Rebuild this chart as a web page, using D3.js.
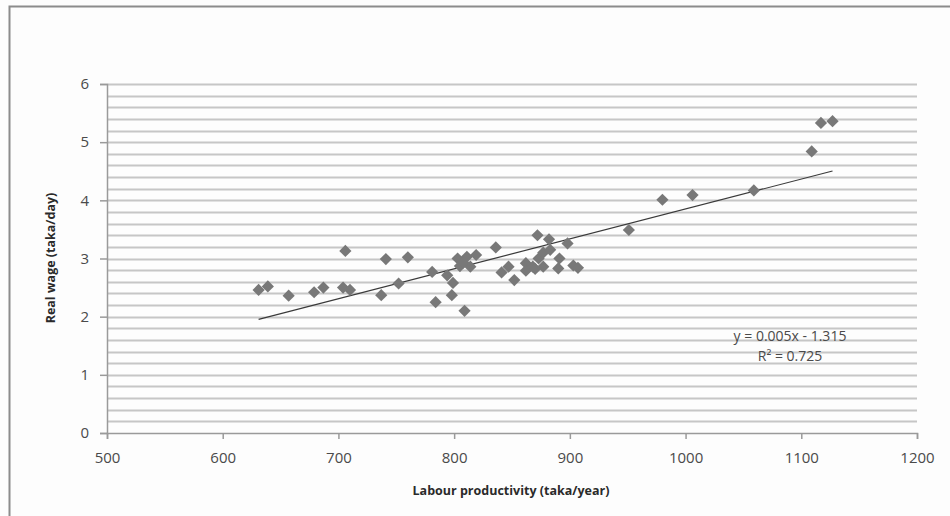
<!DOCTYPE html>
<html><head><meta charset="utf-8">
<script src="https://cdn.jsdelivr.net/npm/d3@7"></script>
<style>
html,body{margin:0;padding:0;background:#fff;}
svg{display:block;}
</style></head>
<body>
<script>
const productivity = [631,639,657,679,687,704,710,706,737,741,752,760,781,784,794,799,798,809,803,811,819,805,814,808,836,841,847,852,872,882,898,862,862,868,873,877,883,877,870,891,890,903,907,951,980,1006,1059,1109,1117,1127];
const realWage = [2.46,2.52,2.36,2.42,2.50,2.50,2.46,3.13,2.37,2.99,2.57,3.02,2.77,2.25,2.71,2.58,2.37,2.10,3.00,3.03,3.06,2.87,2.86,2.93,3.19,2.76,2.86,2.63,3.40,3.33,3.26,2.92,2.79,2.86,3.00,3.10,3.15,2.86,2.82,3.00,2.83,2.88,2.84,3.49,4.01,4.09,4.17,4.84,5.33,5.36];
const xTicks = [500,600,700,800,900,1000,1100,1200];
const yTicks = [0,1,2,3,4,5,6];
const trendCoef = [0.00514, -1.289]; // slope, intercept as drawn
const equationLines = ["y = 0.005x - 1.315", "R\u00B2 = 0.725"];
const xTitle = "Labour productivity (taka/year)";
const yTitle = "Real wage (taka/day)";

const W = 950, H = 516;
const svg = d3.select("body").append("svg").attr("width", W).attr("height", H);
svg.append("rect").attr("width", W).attr("height", H).attr("fill", "#fdfdfd");
// outer frame
svg.append("rect").attr("x", 9.5).attr("y", 6.5).attr("width", 960).attr("height", 530)
  .attr("fill", "none").attr("stroke", "#8c8c8c").attr("stroke-width", 2);

const x = d3.scaleLinear().domain([500, 1200]).range([107, 917]);
const y = d3.scaleLinear().domain([0, 6]).range([433, 84]);

// gridlines every 0.2
const grid = d3.range(1, 31).map(i => i * 0.2);
svg.append("g").selectAll("line").data(grid).join("line")
  .attr("x1", x(500)).attr("x2", x(1200))
  .attr("y1", d => Math.round(y(d)) + 0.5).attr("y2", d => Math.round(y(d)) + 0.5)
  .attr("stroke", "#c6c6c6").attr("stroke-width", 1.8);

// axes
const fontFam = "'Open Sans', 'Liberation Sans', sans-serif";
const yAxis = svg.append("g").attr("transform", `translate(${x(500)},0)`)
  .call(d3.axisLeft(y).tickValues(yTicks).tickSize(7).tickPadding(11).tickFormat(d3.format("d")));
const xAxis = svg.append("g").attr("transform", `translate(0,${y(0)})`)
  .call(d3.axisBottom(x).tickValues(xTicks).tickSize(6).tickPadding(13).tickFormat(d3.format("d")));
[yAxis, xAxis].forEach(a => {
  a.select(".domain").attr("stroke", "#9a9a9a").attr("stroke-width", 1.5);
  a.selectAll(".tick line").attr("stroke", "#9a9a9a").attr("stroke-width", 1.5);
  a.selectAll(".tick text").attr("fill", "#4a4a4a").attr("font-size", 15).attr("font-family", fontFam);
});
xAxis.selectAll(".tick text").attr("dy", "0.71em");

// trend line
const xs = d3.extent(productivity);
const tline = xs.map(v => [v, trendCoef[0] * v + trendCoef[1]]);
svg.append("path").datum(tline)
  .attr("d", d3.line().x(d => x(d[0])).y(d => y(d[1])))
  .attr("stroke", "#3a3a3a").attr("stroke-width", 1.2).attr("fill", "none");

// points
const pts = productivity.map((v, i) => [v, realWage[i]]);
const dsym = d3.symbol().type(d3.symbolDiamond2).size(95);
svg.append("g").selectAll("path").data(pts).join("path")
  .attr("transform", d => `translate(${x(d[0])},${y(d[1])})`)
  .attr("d", dsym).attr("fill", "#787878");

// equation
svg.append("g").selectAll("text").data(equationLines).join("text")
  .attr("x", 790).attr("y", (d, i) => 341 + i * 20)
  .attr("text-anchor", "middle").attr("font-size", 14).attr("fill", "#4a4a4a")
  .attr("font-family", fontFam).text(d => d);

// titles
svg.append("text").attr("x", 511).attr("y", 495).attr("text-anchor", "middle")
  .attr("font-size", 12.5).attr("font-weight", "bold").attr("fill", "#2a2a2a")
  .attr("font-family", fontFam).text(xTitle);
svg.append("text").attr("transform", "translate(55,258) rotate(-90)")
  .attr("text-anchor", "middle").attr("font-size", 12.5).attr("font-weight", "bold").attr("fill", "#2a2a2a")
  .attr("font-family", fontFam).text(yTitle);
</script>
</body></html>
